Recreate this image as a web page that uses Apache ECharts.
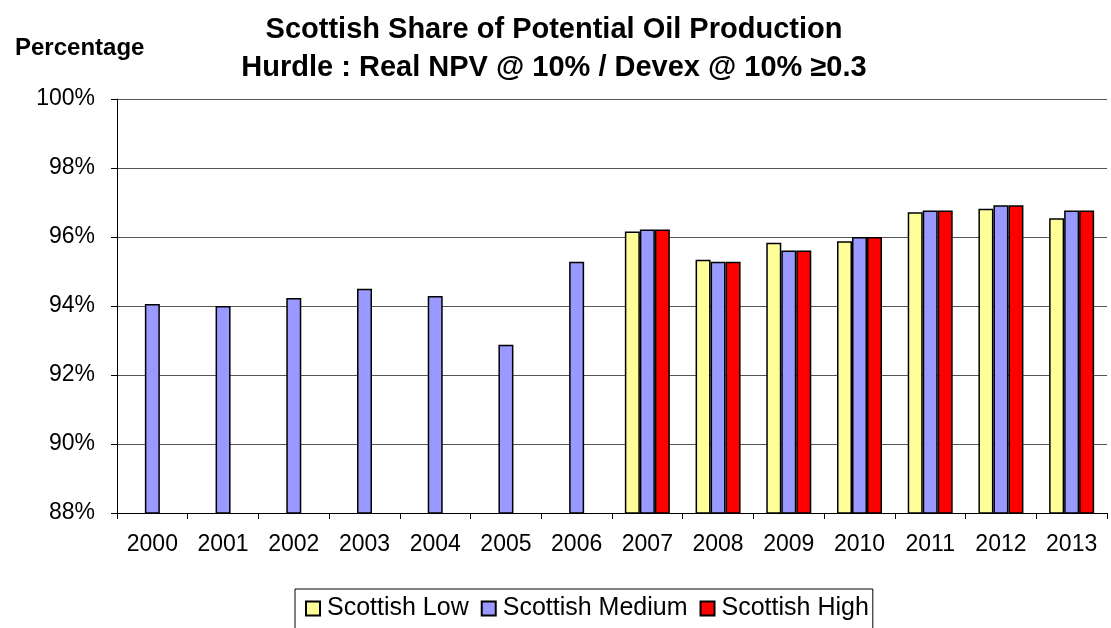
<!DOCTYPE html>
<html>
<head>
<meta charset="utf-8">
<script src="https://cdn.jsdelivr.net/npm/echarts@6/dist/echarts.min.js"></script>
<style>
  html, body { margin: 0; padding: 0; background: #fff; }
  #main { width: 1111px; height: 628px; }
</style>
</head>
<body>
<div id="main"></div>
<script>
// data
var years = ['2000', '2001', '2002', '2003', '2004', '2005', '2006', '2007', '2008', '2009', '2010', '2011', '2012', '2013'];
var scotLow = [null, null, null, null, null, null, null, 96.16, 95.34, 95.83, 95.88, 96.72, 96.82, 96.54];
var scotMedium = [94.06, 94.0, 94.23, 94.5, 94.29, 92.88, 95.28, 96.22, 95.28, 95.61, 96.0, 96.77, 96.92, 96.77];
var scotHigh = [null, null, null, null, null, null, null, 96.22, 95.28, 95.61, 96.0, 96.77, 96.92, 96.77];

var FONT = 'Liberation Sans, Arial, sans-serif';
var myChart = echarts.init(document.getElementById('main'));

function bar(name, data, color) {
    return {
        name: name,
        type: 'bar',
        data: data,
        barWidth: 15,
        barGap: '0%',
        itemStyle: { color: color, borderColor: '#000', borderWidth: 1.5 }
    };
}

var option = {
    animation: false,
    textStyle: { fontFamily: FONT },
    title: [{
        text: 'Scottish Share of Potential Oil Production\nHurdle : Real NPV @ 10% / Devex @ 10% \u22650.3',
        left: 549,
        textAlign: 'center',
        top: 6,
        textStyle: { fontFamily: FONT, fontSize: 29, fontWeight: 'bold', color: '#000', lineHeight: 38 }
    }, {
        text: 'Percentage',
        left: 10,
        top: 31,
        textStyle: { fontFamily: FONT, fontSize: 24, fontWeight: 'bold', color: '#000' }
    }],
    legend: {
        left: 295,
        top: 589,
        itemWidth: 14,
        itemHeight: 14,
        itemGap: 12,
        borderColor: '#000',
        borderWidth: 1,
        padding: [7, 4, 20, 10],
        icon: 'rect',
        textStyle: { fontFamily: FONT, fontSize: 25, color: '#000', padding: [0, 0, 0, 2] },
        data: ['Scottish Low', 'Scottish Medium', 'Scottish High']
    },
    grid: { left: 117, right: 4, top: 99, bottom: 115 },
    xAxis: {
        type: 'category',
        data: years,
        axisLine: { lineStyle: { color: '#000', width: 1 } },
        axisTick: { show: true, length: 6, lineStyle: { color: '#000' } },
        axisLabel: { color: '#000', fontSize: 23, margin: 20, interval: 0, fontFamily: FONT }
    },
    yAxis: {
        type: 'value',
        min: 88,
        max: 100,
        interval: 2,
        axisLine: { show: true, lineStyle: { color: '#000', width: 1 } },
        axisTick: { show: true, length: 6, lineStyle: { color: '#000' } },
        axisLabel: { color: '#000', fontSize: 23, margin: 22, formatter: '{value}%', fontFamily: FONT },
        splitLine: { lineStyle: { color: '#555', width: 1 } }
    },
    series: [
        bar('Scottish Low', scotLow, '#FFFF99'),
        bar('Scottish Medium', scotMedium, '#9999FF'),
        bar('Scottish High', scotHigh, '#FF0000')
    ]
};

myChart.setOption(option);
</script>
</body>
</html>
